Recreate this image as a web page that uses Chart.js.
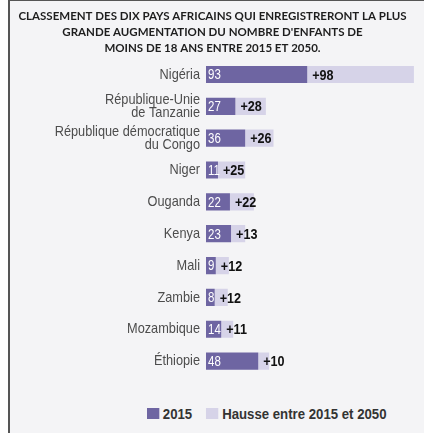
<!DOCTYPE html>
<html>
<head>
<meta charset="utf-8">
<script src="https://cdn.jsdelivr.net/npm/chart.js@4/dist/chart.umd.min.js"></script>
<style>
  html, body { margin: 0; padding: 0; background: #ffffff; }
  #frame {
    position: absolute; left: 8px; top: 0; width: 414px; height: 432px;
    border-left: 2px solid #555; border-top: 1px solid #555;
    background: #f4f4f6;
  }
  #wrap { position: absolute; left: 0; top: 0; width: 414px; height: 393px; }
  #legend {
    position: absolute; left: 137px; top: 403px; height: 18px; line-height: 18px;
    white-space: nowrap; transform: scaleX(0.88); transform-origin: left center;
    font: bold 15px "Liberation Sans", Arial, sans-serif;
    color: #333; display: flex; align-items: center;
  }
  #legend span.box { display: inline-block; width: 13.5px; height: 11px; margin-right: 4.5px; }
  #legend span.item { display: inline-flex; align-items: center; margin-right: 16px; }
</style>
</head>
<body>
<div id="frame">
  <div id="wrap"><canvas id="chart"></canvas></div>
  <div id="legend"></div>
</div>
<script>
  const FAMILY = '"Liberation Sans", Arial, sans-serif';
  const NARROW = 0.85; // squeeze to fake a condensed face

  // data
  const countries = [
    "Nigéria",
    ["République-Unie", "de Tanzanie"],
    ["République démocratique", "du Congo"],
    "Niger",
    "Ouganda",
    "Kenya",
    "Mali",
    "Zambie",
    "Mozambique",
    "Éthiopie",
  ];
  const values2015 = [93, 27, 36, 11, 22, 23, 9, 8, 14, 48];
  const hausse = [98, 28, 26, 25, 22, 13, 12, 12, 11, 10];
  const seriesNames = ["2015", "Hausse entre 2015 et 2050"];
  const colors = ["#6e65a2", "#d6d3e8"];

  function narrowText(ctx, text, x, y, k) {
    ctx.save();
    ctx.translate(x, y);
    ctx.scale(k, 1);
    ctx.fillText(text, 0, 0);
    ctx.restore();
  }

  // BEGIN: CONDENSED AXIS LABELS
  const narrowTicks = {
    id: "narrowTicks",
    beforeDraw(chart) {
      const sc = chart.scales.y;
      if (sc._narrow) return;
      const orig = sc.drawLabels.bind(sc);
      sc.drawLabels = function (area) {
        const ctx = this.ctx;
        const x0 = this.right - this.options.ticks.padding;
        ctx.save();
        ctx.translate(x0, 0);
        ctx.scale(NARROW, 1);
        ctx.translate(-x0, 0);
        orig(area);
        ctx.restore();
      };
      sc._narrow = true;
    },
  };
  // END: CONDENSED AXIS LABELS

  // BEGIN: VALUE LABELS
  const valueLabels = {
    id: "valueLabels",
    afterDatasetsDraw(chart) {
      const ctx = chart.ctx;
      const dark = chart.getDatasetMeta(0).data;
      ctx.save();
      ctx.textBaseline = "middle";
      ctx.textAlign = "left";
      dark.forEach((bar, i) => {
        ctx.fillStyle = "#ffffff";
        ctx.font = "14px " + FAMILY;
        narrowText(ctx, values2015[i], bar.base + 2, bar.y + 1, 0.82);
        ctx.fillStyle = "#111111";
        ctx.font = "bold 15px " + FAMILY;
        narrowText(ctx, "+" + hausse[i], bar.x + 5, bar.y + 1, 0.84);
      });
      ctx.restore();
    },
  };
  // END: VALUE LABELS

  const chart = new Chart(document.getElementById("chart"), {
    type: "bar",
    data: {
      labels: countries,
      datasets: [
        {
          label: seriesNames[0],
          data: values2015,
          backgroundColor: colors[0],
          borderWidth: 0,
        },
        {
          label: seriesNames[1],
          data: hausse,
          backgroundColor: colors[1],
          borderWidth: 0,
        },
      ],
    },
    options: {
      indexAxis: "y",
      responsive: true,
      maintainAspectRatio: false,
      animation: false,
      datasets: { bar: { categoryPercentage: 1, barPercentage: 0.54 } },
      layout: { padding: { left: 0, right: 9, top: 0, bottom: 17 } },
      scales: {
        x: {
          stacked: true,
          min: 0,
          max: 192,
          display: false,
        },
        y: {
          stacked: true,
          grid: { display: false, drawTicks: false },
          border: { display: false },
          afterFit: (scale) => { scale.width = 196; },
          ticks: {
            autoSkip: false,
            padding: 6,
            color: "#4d4d4d",
            font: { family: FAMILY, size: 15, lineHeight: 0.9 },
          },
        },
      },
      plugins: {
        legend: { display: false },
        tooltip: { enabled: false },
        title: {
          display: true,
          text: [
            "CLASSEMENT DES DIX PAYS AFRICAINS QUI ENREGISTRERONT LA PLUS",
            "GRANDE AUGMENTATION DU NOMBRE D'ENFANTS DE",
            "MOINS DE 18 ANS ENTRE 2015 ET 2050.",
          ],
          color: "#1e1e1e",
          font: { family: "Lato, 'Open Sans', sans-serif", size: 11.5, weight: "bold", lineHeight: 1.35 },
          padding: { top: 8, bottom: 3 },
        },
      },
    },
    plugins: [narrowTicks, valueLabels],
  });

  // html legend built from the chart datasets
  const $legend = document.getElementById("legend");
  chart.data.datasets.forEach((ds) => {
    const item = document.createElement("span");
    item.className = "item";
    const box = document.createElement("span");
    box.className = "box";
    box.style.background = ds.backgroundColor;
    item.appendChild(box);
    item.appendChild(document.createTextNode(ds.label));
    $legend.appendChild(item);
  });
</script>
</body>
</html>
